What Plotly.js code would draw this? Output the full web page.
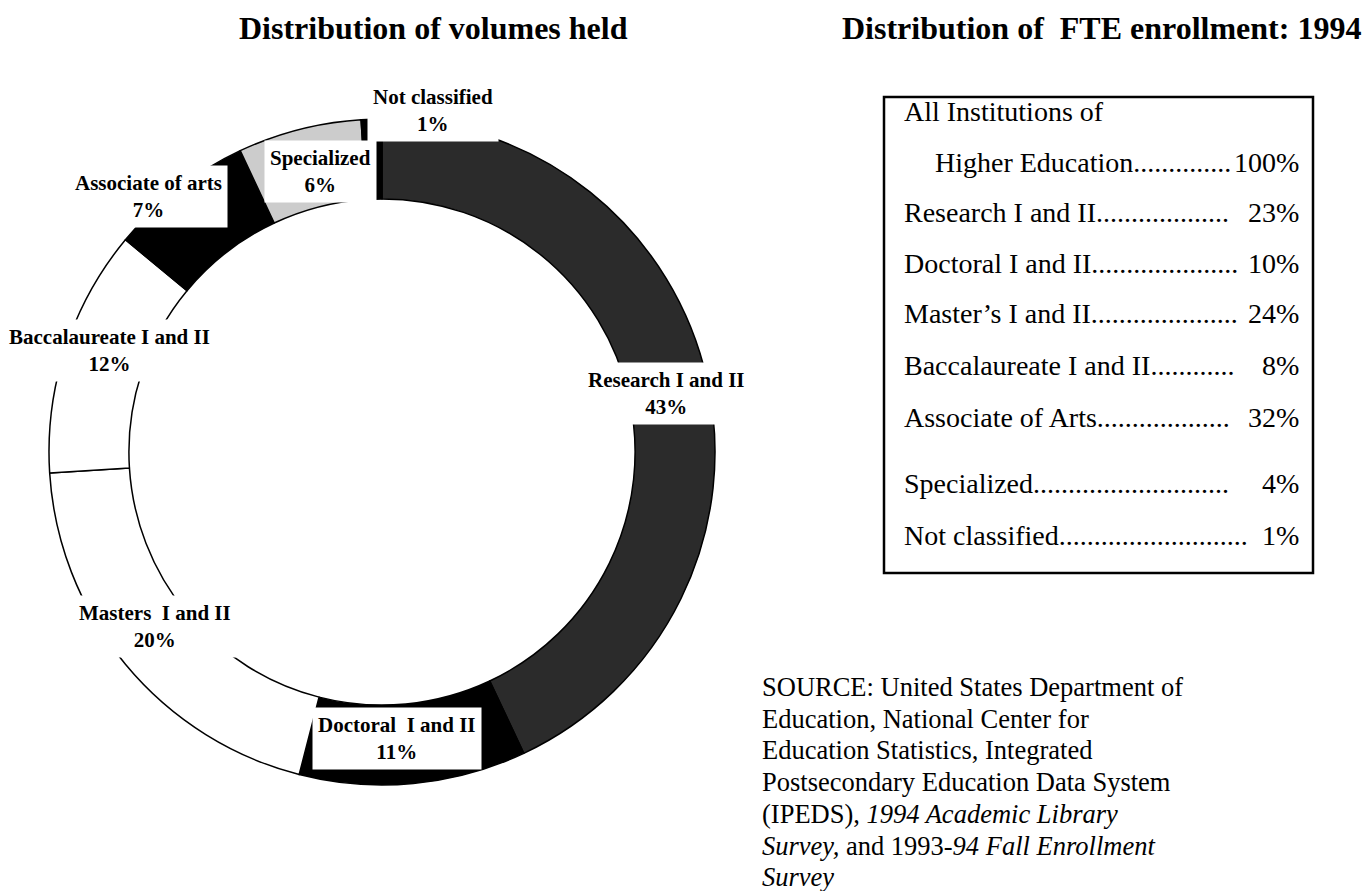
<!DOCTYPE html>
<html>
<head>
<meta charset="utf-8">
<script src="https://cdn.plot.ly/plotly-3.0.1.min.js"></script>
<style>
  html, body { margin: 0; padding: 0; background: #fff; }
  #chart { width: 1367px; height: 891px; }
</style>
</head>
<body>
<div id="chart"></div>
<script>
// volumes held, by Carnegie class (percent)
const volumeCategories = ['Research I and II', 'Doctoral&nbsp; I and II', 'Masters&nbsp; I and II',
  'Baccalaureate I and II', 'Associate of arts', 'Specialized', 'Not classified'];
const volumeShares = [43, 11, 20, 12, 7, 6, 1];

// FTE enrollment 1994 (percent)
const enrollCategories = ['Higher Education', 'Research I and II', 'Doctoral I and II',
  'Master\u2019s I and II', 'Baccalaureate I and II', 'Associate of Arts',
  'Specialized', 'Not classified'];
const enrollShares = [100, 23, 10, 24, 8, 32, 4, 1];

const sourceLines = [
  'SOURCE: United States Department of',
  'Education, National Center for',
  'Education Statistics, Integrated',
  'Postsecondary Education Data System',
  '(IPEDS), <i>1994 Academic Library</i>',
  '<i>Survey,</i> and 1993-<i>94 Fall Enrollment</i>',
  '<i>Survey</i>'
];

// styling
const W = 1367, H = 891;
const sliceColors = ['#2b2b2b', '#000000', '#ffffff', '#ffffff', '#000000', '#cccccc', '#000000'];
const labelNudge = [[3, 4], [-12, 0], [-5, -9], [1, -12], [-57, -28], [10, -2], [60, -54]];
const leaderDots = [14, 19, 21, 21, 12, 19, 28, 27];
const rowY = [162, 212, 263, 313, 365, 417, 483, 535];
const serif = 'Liberation Serif, Times New Roman, serif';

function px(x) { return x / W; }
function py(y) { return 1 - y / H; }

// pie geometry in pixels
const cx = 382, cy = 452, R = 333;
const dom = { x: [px(cx - R), px(cx + R)], y: [py(cy + R), py(cy - R)] };

const trace = {
  type: 'pie',
  labels: volumeCategories,
  values: volumeShares,
  sort: false,
  direction: 'clockwise',
  rotation: 0,
  hole: 0.76,
  textinfo: 'none',
  hoverinfo: 'label+percent',
  marker: { colors: sliceColors, line: { color: '#000', width: 1.5 } },
  domain: dom
};

let annotations = [];

// slice labels, placed from each slice's mid angle
const total = volumeShares.reduce((a, b) => a + b, 0);
let cum = 0;
for (let i = 0; i < volumeShares.length; i++) {
  const mid = (cum + volumeShares[i] / 2) / total * 2 * Math.PI;
  cum += volumeShares[i];
  const r = R * 0.865;
  const x = cx + r * Math.sin(mid) + labelNudge[i][0];
  const y = cy - r * Math.cos(mid) + labelNudge[i][1];
  annotations.push({
    xref: 'paper', yref: 'paper', x: px(x), y: py(y),
    xanchor: 'center', yanchor: 'middle', showarrow: false,
    text: '<b>' + volumeCategories[i] + '</b><br><b>' + volumeShares[i] + '%</b>',
    font: { family: serif, size: 21, color: '#000' },
    bgcolor: '#fff', borderpad: 5
  });
}

// titles
annotations.push({
  xref: 'paper', yref: 'paper', x: px(433), y: py(28), xanchor: 'center', yanchor: 'middle',
  showarrow: false, text: '<b>Distribution of volumes held</b>',
  font: { family: serif, size: 32, color: '#000' }
});
annotations.push({
  xref: 'paper', yref: 'paper', x: px(1101), y: py(28), xanchor: 'center', yanchor: 'middle',
  showarrow: false, text: '<b>Distribution of&nbsp; FTE enrollment: 1994</b>',
  font: { family: serif, size: 32, color: '#000' }
});

// enrollment table
annotations.push({
  xref: 'paper', yref: 'paper', x: px(902), y: py(112), xanchor: 'left', yanchor: 'middle',
  showarrow: false, text: 'All Institutions of',
  font: { family: serif, size: 28, color: '#000' }
});
for (let i = 0; i < enrollCategories.length; i++) {
  annotations.push({
    xref: 'paper', yref: 'paper', x: px(i === 0 ? 933 : 902), y: py(rowY[i]),
    xanchor: 'left', yanchor: 'middle', showarrow: false,
    text: enrollCategories[i] + '.'.repeat(leaderDots[i]),
    font: { family: serif, size: 28, color: '#000' }
  });
  annotations.push({
    xref: 'paper', yref: 'paper', x: px(1301), y: py(rowY[i]),
    xanchor: 'right', yanchor: 'middle', showarrow: false,
    text: enrollShares[i] + '%',
    font: { family: serif, size: 28, color: '#000' }
  });
}

// source note
sourceLines.forEach(function (line, i) {
  annotations.push({
    xref: 'paper', yref: 'paper', x: px(760), y: py(687 + i * 31.7),
    xanchor: 'left', yanchor: 'middle', showarrow: false, text: line,
    font: { family: serif, size: 26.5, color: '#000' }
  });
});

const layout = {
  width: W, height: H,
  margin: { l: 0, r: 0, t: 0, b: 0 },
  showlegend: false,
  paper_bgcolor: '#fff',
  annotations: annotations,
  shapes: [{
    type: 'rect', xref: 'paper', yref: 'paper',
    x0: px(884), x1: px(1313), y0: py(573), y1: py(97),
    line: { color: '#000', width: 2.5 }
  }]
};

Plotly.newPlot('chart', [trace], layout, { displayModeBar: false });
</script>
</body>
</html>
